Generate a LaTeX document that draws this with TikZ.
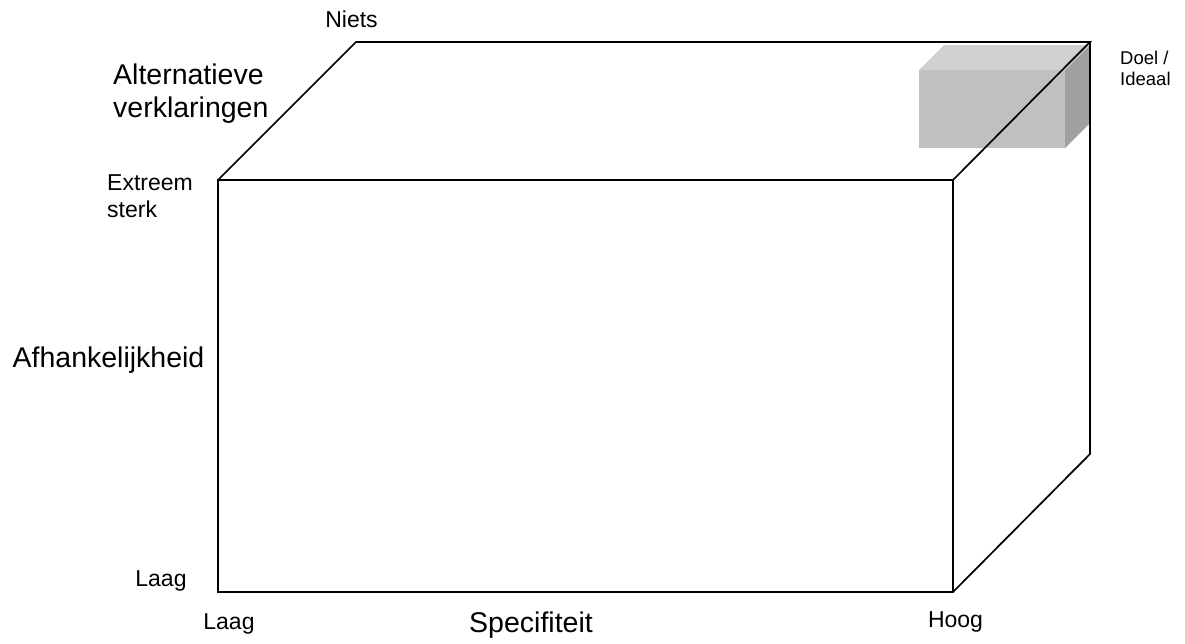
\documentclass[tikz,border=0pt]{standalone}
\usepackage{fontspec}
\setmainfont{Liberation Sans}
\definecolor{cubetop}{HTML}{D0D0D0}
\definecolor{cubefront}{HTML}{C0C0C0}
\definecolor{cubeside}{HTML}{A0A0A0}
\begin{document}
\begin{tikzpicture}[x=1pt,y=-1pt,
  edge/.style={line width=1.7pt,line join=miter},
  smalllbl/.style={inner sep=0pt,font=\fontsize{23}{27}\selectfont,align=left},
  biglbl/.style={inner sep=0pt,font=\fontsize{28.5}{33}\selectfont,align=left},
  tinylbl/.style={inner sep=0pt,font=\fontsize{18.5}{21}\selectfont,align=left}]
\useasboundingbox (0,0) rectangle (1185,643);
% corners of the big box
\coordinate (ftl) at (218,180);
\coordinate (ftr) at (953,180);
\coordinate (fbl) at (218,592);
\coordinate (fbr) at (953,592);
\coordinate (btl) at (356,42);
\coordinate (btr) at (1090,42);
\coordinate (bbr) at (1090,454);
% small grey cuboid (goal)
\fill[cubetop] (919,70) -- (944,45) -- (1090,45) -- (1065,70) -- cycle;
\fill[cubeside] (1065,70) -- (1090,45) -- (1090,123) -- (1065,148) -- cycle;
\fill[cubefront] (919,70) rectangle (1065,148);
% big box edges
\draw[edge] (ftl) -- (ftr) -- (fbr) -- (fbl) -- cycle;
\draw[edge] (ftl) -- (btl) -- (btr) -- (ftr);
\draw[edge] (btr) -- (bbr) -- (fbr);
% labels
\node[smalllbl,anchor=base] (niets) at (351.5,27) {Niets};
\node[biglbl,anchor=base west] (alt) at (113,117) {Alternatieve\\verklaringen};
\node[smalllbl,anchor=base west] (extr) at (107,217) {Extreem\\sterk};
\node[biglbl,anchor=base] (afh) at (108.5,367) {Afhankelijkheid};
\node[smalllbl,anchor=base] (laagy) at (161,586) {Laag};
\node[smalllbl,anchor=base] (laagx) at (229,629) {Laag};
\node[biglbl,anchor=base] (spec) at (531,632) {Specifiteit};
\node[smalllbl,anchor=base] (hoog) at (955.5,627) {Hoog};
\node[tinylbl,anchor=base west] (doel) at (1120,85) {Doel /\\Ideaal};
\end{tikzpicture}
\end{document}
